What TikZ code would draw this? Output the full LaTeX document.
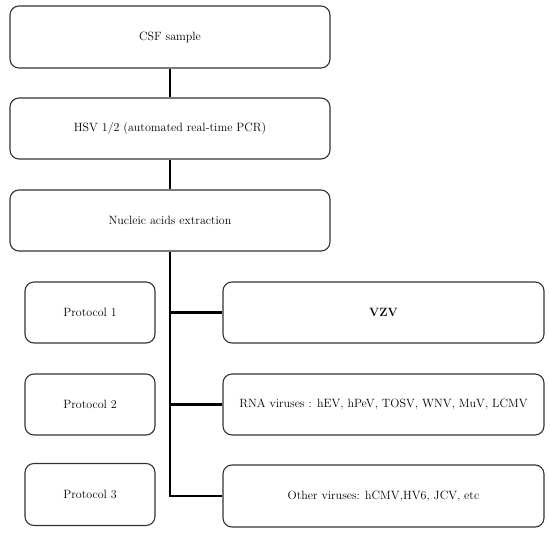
\documentclass[tikz,border=0pt]{standalone}
\usetikzlibrary{positioning}
\begin{document}
\begin{tikzpicture}[x=1pt,y=-1pt,
  box/.style={draw=black!80, line width=1.1pt, rounded corners=9pt, inner sep=0pt, font=\fontsize{12}{14}\selectfont},
  link/.style={line width=2.8pt, black}]
\useasboundingbox (0,0) rectangle (550,533);
\node[box, minimum width=320pt, minimum height=62pt] (csf) at (170,37) {CSF sample};
\node[box, minimum width=320pt, minimum height=61pt] (hsv) at (170,128.5) {HSV 1/2 (automated real-time PCR)};
\node[box, minimum width=320pt, minimum height=61pt] (nuc) at (170,220.5) {Nucleic acids extraction};
\node[box, minimum width=130pt, minimum height=61pt] (p1) at (90,312.5) {Protocol 1};
\node[box, minimum width=130pt, minimum height=61pt] (p2) at (90,404.5) {Protocol 2};
\node[box, minimum width=130pt, minimum height=62pt] (p3) at (90,494.5) {Protocol 3};
\node[box, minimum width=321pt, minimum height=61pt] (v1) at (383.5,312.5) {\textbf{VZV}};
\node[box, minimum width=321pt, minimum height=61pt] (v2) at (383.5,404.5) {RNA viruses : hEV, hPeV, TOSV, WNV, MuV, LCMV};
\node[box, minimum width=321pt, minimum height=62pt] (v3) at (383.5,496) {Other viruses: hCMV,HV6, JCV, etc};
\coordinate (b1) at (170,312.5);
\coordinate (b2) at (170,404.5);
\draw[line width=2.4pt] (csf.south) -- (hsv.north);
\draw[line width=2.4pt] (hsv.south) -- (nuc.north);
\draw[link] (nuc.south) |- (v3.west);
\draw[link] (b1) -- (v1.west);
\draw[link] (b2) -- (v2.west);
\end{tikzpicture}
\end{document}
